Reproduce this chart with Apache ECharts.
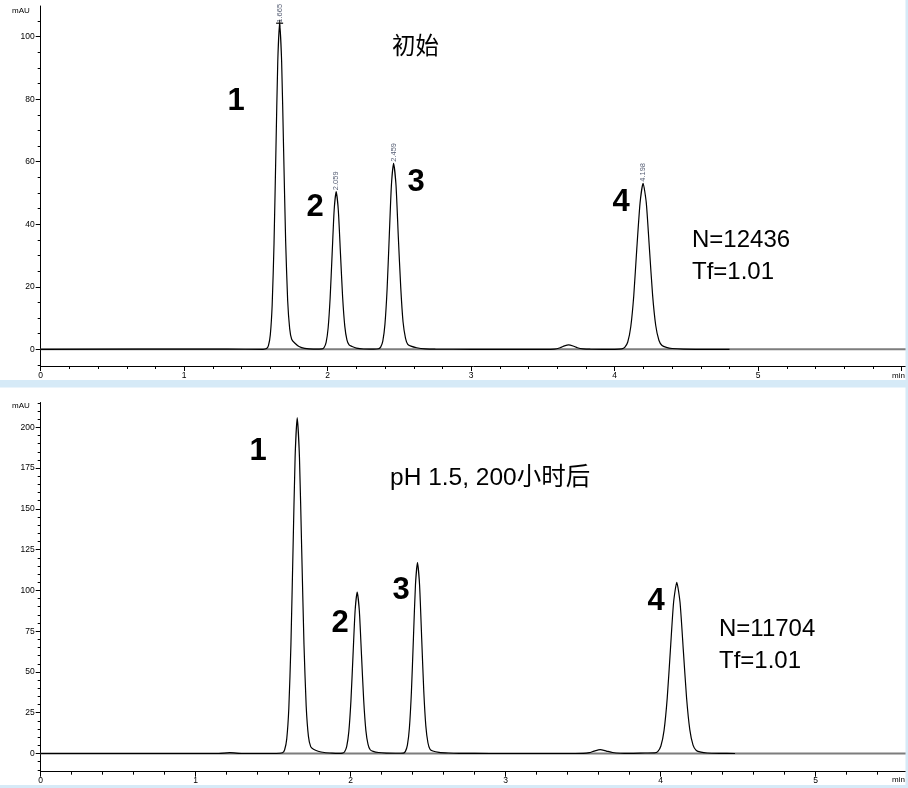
<!DOCTYPE html>
<html><head><meta charset="utf-8">
<script src="https://cdn.jsdelivr.net/npm/echarts@6/dist/echarts.min.js"></script>
<style>html,body{margin:0;padding:0;background:#fff}#c{width:908px;height:788px}</style>
</head><body><div id="c"></div>
<script>
// ---- data (time in min, signal in mAU) ----
var topTrace = [
 [0,0],[1.3,0.05],[1.55,0],
 [1.574,0.23],[1.587,1.16],[1.600,4.6],[1.613,14.1],[1.626,33.9],[1.639,63.3],[1.652,92.0],[1.665,104.3],[1.679,92.0],[1.693,63.3],[1.707,34.5],[1.721,15.6],[1.735,6.6],[1.749,3.2],[1.77,2.0],[1.80,0.9],[1.84,0.3],[1.9,0.05],
 [1.961,0.11],[1.975,0.56],[1.989,2.2],[2.003,6.8],[2.017,16.4],[2.031,30.6],[2.045,44.5],[2.059,50.4],[2.074,44.5],[2.089,30.6],[2.104,16.7],[2.119,7.4],[2.134,3.0],[2.149,1.4],[2.17,0.9],[2.20,0.4],[2.25,0.1],[2.32,0.05],
 [2.354,0.18],[2.369,0.7],[2.384,2.6],[2.399,8.05],[2.414,19.3],[2.429,36.1],[2.444,52.5],[2.459,59.5],[2.476,52.5],[2.492,36.1],[2.509,19.8],[2.525,8.8],[2.542,3.6],[2.558,1.6],[2.58,1.0],[2.62,0.5],[2.68,0.15],[2.75,0.05],
 [3.0,0],[3.5,0],
 [3.58,0.06],[3.62,0.5],[3.65,1.08],[3.679,1.4],[3.71,1.05],[3.74,0.5],[3.78,0.15],[3.83,0.03],
 [4.0,0],[4.049,0.12],[4.07,0.59],[4.091,2.33],[4.112,7.2],[4.133,17.2],[4.154,32.2],[4.177,46.9],[4.198,53.1],[4.22,46.9],[4.242,32.2],[4.264,17.4],[4.286,7.6],[4.308,2.9],[4.33,1.2],[4.36,0.6],[4.40,0.25],[4.48,0.05],[4.6,0],[4.8,0]
];
var bottomTrace = [
 [0,0],[1.15,0],[1.22,0.5],[1.3,0],[1.52,0],
 [1.5605,0.45],[1.574,2.3],[1.5875,9.0],[1.601,27.9],[1.6145,66.9],[1.628,124.9],[1.6415,181.7],[1.655,205.9],[1.6695,181.7],[1.684,124.9],[1.6985,67.5],[1.713,29.0],[1.7275,10.5],[1.742,4.2],[1.76,2.6],[1.79,1.4],[1.83,0.6],[1.88,0.2],[1.92,0.05],
 [1.9475,0.22],[1.961,1.1],[1.9745,4.35],[1.988,13.4],[2.0015,32.1],[2.015,60.0],[2.0285,87.4],[2.042,99],[2.056,87.4],[2.07,60.0],[2.084,32.6],[2.098,14.2],[2.112,5.6],[2.126,2.3],[2.145,1.3],[2.18,0.6],[2.23,0.25],[2.29,0.15],
 [2.34,0.26],[2.353,1.3],[2.366,5.1],[2.379,15.8],[2.392,38.0],[2.405,71.0],[2.418,103.3],[2.431,117],[2.4445,103.3],[2.458,71.0],[2.4715,38.5],[2.485,16.8],[2.4985,6.6],[2.512,2.6],[2.53,1.5],[2.57,0.7],[2.63,0.3],[2.7,0.1],[2.9,0],[3.45,0],
 [3.50,0.05],[3.54,0.5],[3.57,1.45],[3.61,2.4],[3.65,1.5],[3.69,0.6],[3.74,0.15],[3.8,0.03],
 [3.9,0.3],[3.9605,0.4],[3.981,1.17],[4.0015,4.6],[4.022,14.2],[4.0425,34.1],[4.063,63.7],[4.0835,92.7],[4.104,105],[4.125,92.7],[4.146,63.7],[4.167,34.3],[4.188,14.6],[4.209,5.1],[4.23,1.8],[4.26,0.8],[4.30,0.3],[4.38,0.1],[4.48,0]
];
var topPeakTimes = [1.665, 2.059, 2.459, 4.198];
var topPeakHeights = [104.3, 50.4, 59.5, 53.1];
var topRange = {xMin:0, xMax:6.03, yMin:-5.34, yMax:109.8};
var bottomRange = {xMin:0, xMax:5.583, yMin:-11.16, yMax:215.2};
var topYLabels = [0, 20, 40, 60, 80, 100];
var bottomYLabels = [0, 25, 50, 75, 100, 125, 150, 175, 200];
var topXLabels = [0, 1, 2, 3, 4, 5];
var bottomXLabels = [0, 1, 2, 3, 4, 5];

function steps(a, b, s) { var r = []; for (var i = 0; a + i * s <= b + 1e-9; i++) r.push(+(a + i * s).toFixed(4)); return r; }
var topMinorY = steps(-5, 105, 5), bottomMinorY = steps(-10, 215, 5);
var topMinorX = steps(0, 6, 0.2), bottomMinorX = steps(0, 5.4, 0.2);
var topMajorX = [0,1,2,3,4,5,6], bottomMajorX = [0,1,2,3,4,5];

var FONT = "'Liberation Sans', Arial, sans-serif";
var lab = {fontSize: 8.5, color: '#000', fontFamily: FONT};

function xAxes(g, r, minor, major, labels, margin) {
  return [
    {gridIndex: g, type: 'value', position: 'bottom', min: r.xMin, max: r.xMax,
     axisLine: {onZero: false, lineStyle: {color: '#000', width: 1}},
     axisTick: {customValues: minor, length: 3, lineStyle: {color: '#000'}},
     axisLabel: {show: false}, splitLine: {show: false}},
    {gridIndex: g, type: 'value', position: 'bottom', min: r.xMin, max: r.xMax,
     axisLine: {show: false, onZero: false},
     axisTick: {customValues: major, length: 5, lineStyle: {color: '#000'}},
     axisLabel: Object.assign({customValues: labels, margin: margin}, lab),
     splitLine: {show: false}}
  ];
}
function yAxes(g, r, minor, labels) {
  return [
    {gridIndex: g, type: 'value', position: 'left', min: r.yMin, max: r.yMax,
     axisLine: {show: true, onZero: false, lineStyle: {color: '#000', width: 1}},
     axisTick: {show: true, customValues: minor, length: 3, lineStyle: {color: '#000'}},
     axisLabel: {show: false}, splitLine: {show: false}},
    {gridIndex: g, type: 'value', position: 'left', min: r.yMin, max: r.yMax,
     axisLine: {show: false, onZero: false},
     axisTick: {show: true, customValues: labels, length: 5, lineStyle: {color: '#000'}},
     axisLabel: Object.assign({customValues: labels, margin: 6}, lab),
     splitLine: {show: false}}
  ];
}

function txt(x, y, s, size, opts) {
  return {type: 'text', x: x, y: y, style: Object.assign({text: s, fontSize: size, fontFamily: FONT, fill: '#000', textVerticalAlign: 'middle'}, opts || {})};
}
var CJK = "'Liberation Sans', 'Noto Sans CJK SC', sans-serif";

var chart = echarts.init(document.getElementById('c'), null, {renderer: 'canvas'});
chart.setOption({
  animation: false,
  backgroundColor: '#fff',
  grid: [
    {left: 40.7, top: 6, width: 865.3, height: 360},
    {left: 40.7, top: 402.5, width: 865.3, height: 369.2}
  ],
  xAxis: xAxes(0, topRange, topMinorX, topMajorX, topXLabels, 5).concat(xAxes(1, bottomRange, bottomMinorX, bottomMajorX, bottomXLabels, 4)),
  yAxis: yAxes(0, topRange, topMinorY, topYLabels).concat(yAxes(1, bottomRange, bottomMinorY, bottomYLabels)),
  series: [
    {type: 'line', xAxisIndex: 0, yAxisIndex: 0, data: [[topRange.xMin, 0], [topRange.xMax, 0]], showSymbol: false, lineStyle: {color: '#7d7d7d', width: 2}, z: 1},
    {type: 'line', xAxisIndex: 0, yAxisIndex: 0, data: topTrace, showSymbol: false, smooth: 0.2, lineStyle: {color: '#000', width: 1.2}, z: 3},
    {type: 'scatter', xAxisIndex: 0, yAxisIndex: 0, z: 4,
     data: topPeakTimes.map(function (t, i) {
       return i === 0 ? {value: [t, topPeakHeights[i]], symbol: 'path://M4,0H6V4H10V6H6V10H4V6H0V4H4Z', symbolSize: 7, itemStyle: {color: '#000'}, label: {distance: -3}}
                      : {value: [t, topPeakHeights[i]], symbolSize: 1, itemStyle: {color: 'rgba(0,0,0,0)'}};
     }),
     label: {show: true, position: 'top', distance: 1, rotate: 90, align: 'left', verticalAlign: 'middle',
             fontSize: 7.5, fontFamily: FONT, color: '#2b3550',
             formatter: function (p) { return p.value[0].toFixed(3); }}},
    {type: 'line', xAxisIndex: 2, yAxisIndex: 2, data: [[bottomRange.xMin, 0], [bottomRange.xMax, 0]], showSymbol: false, lineStyle: {color: '#7d7d7d', width: 2}, z: 1},
    {type: 'line', xAxisIndex: 2, yAxisIndex: 2, data: bottomTrace, showSymbol: false, smooth: 0.2, lineStyle: {color: '#000', width: 1.2}, z: 3}
  ],
  graphic: [
    {type: 'rect', shape: {x: 0, y: 380, width: 908, height: 7.5}, style: {fill: '#d6eaf7'}, z: 100},
    {type: 'rect', shape: {x: 905.5, y: 0, width: 3, height: 788}, style: {fill: '#d6eaf7'}, z: 100},
    {type: 'rect', shape: {x: 0, y: 785, width: 908, height: 3}, style: {fill: '#d6eaf7'}, z: 100},
    txt(12, 11, 'mAU', 8),
    txt(12, 406, 'mAU', 8),
    txt(905, 375.5, 'min', 8, {textAlign: 'right'}),
    txt(905, 780, 'min', 8, {textAlign: 'right'}),
    txt(392, 48, '初始', 23.5, {fontFamily: CJK}),
    txt(390, 478, 'pH 1.5, 200小时后', 24.5, {fontFamily: CJK}),
    txt(692, 240, 'N=12436', 24),
    txt(692, 272, 'Tf=1.01', 24),
    txt(719, 629, 'N=11704', 24),
    txt(719, 661, 'Tf=1.01', 24),
    txt(236, 101, '1', 31, {fontWeight: 'bold', textAlign: 'center'}),
    txt(315, 207, '2', 31, {fontWeight: 'bold', textAlign: 'center'}),
    txt(416, 182, '3', 31, {fontWeight: 'bold', textAlign: 'center'}),
    txt(621, 202, '4', 31, {fontWeight: 'bold', textAlign: 'center'}),
    txt(258, 451, '1', 31, {fontWeight: 'bold', textAlign: 'center'}),
    txt(340, 623, '2', 31, {fontWeight: 'bold', textAlign: 'center'}),
    txt(401, 590, '3', 31, {fontWeight: 'bold', textAlign: 'center'}),
    txt(656, 601, '4', 31, {fontWeight: 'bold', textAlign: 'center'})
  ]
});
</script></body></html>
